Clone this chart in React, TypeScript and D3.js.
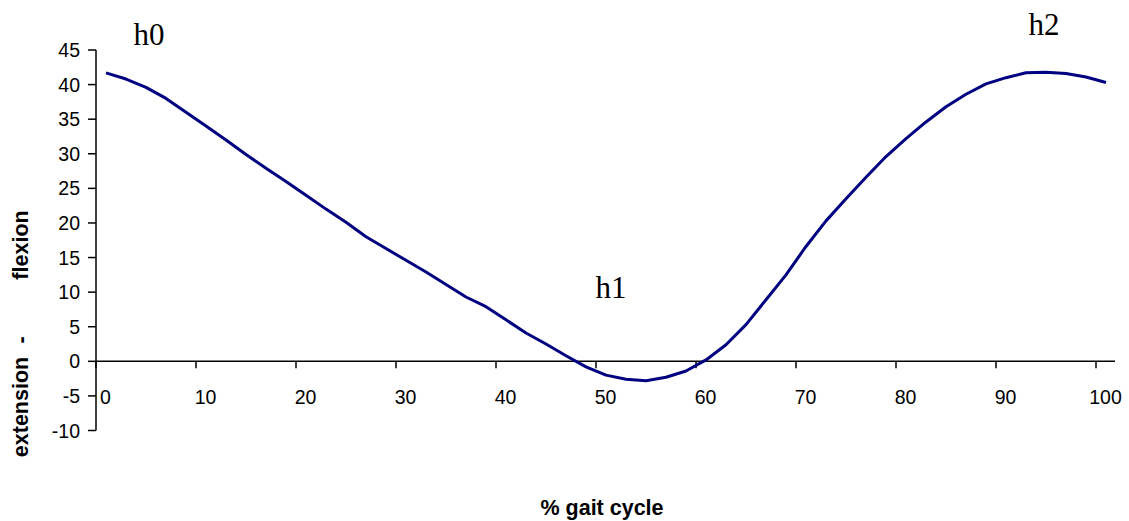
import React from "react";
import * as d3 from "d3";

const gaitPct = [1, 3, 5, 7, 9, 11, 13, 15, 17, 19, 21, 23, 25, 27, 29, 31, 33, 35, 37, 39, 41, 43, 45, 47, 49, 51, 53, 55, 57, 59, 61, 63, 65, 67, 69, 71, 73, 75, 77, 79, 81, 83, 85, 87, 89, 91, 93, 95, 97, 99, 101];
const hipAngle = [41.7, 40.8, 39.6, 38.0, 36.0, 34.0, 32.0, 29.9, 27.9, 26.0, 24.0, 22.0, 20.1, 18.0, 16.3, 14.6, 12.9, 11.1, 9.3, 7.9, 6.0, 4.1, 2.5, 0.8, -0.8, -2.0, -2.6, -2.8, -2.3, -1.4, 0.2, 2.4, 5.3, 8.9, 12.5, 16.6, 20.3, 23.5, 26.6, 29.6, 32.2, 34.6, 36.8, 38.6, 40.1, 41.0, 41.7, 41.8, 41.6, 41.1, 40.3];
const xTicks = [0, 10, 20, 30, 40, 50, 60, 70, 80, 90, 100];
const yTicks = [-10, -5, 0, 5, 10, 15, 20, 25, 30, 35, 40, 45];
const phaseLabels = ["h0", "h1", "h2"];
const phaseX = [5.3, 51.5, 94.8];
const phaseY = [45.7, 9.1, 47.2];

export default function App() {
  const W = 1129, H = 521;
  const x = d3.scaleLinear().domain([0, 100]).range([96, 1096]);
  const y = d3.scaleLinear().domain([-10, 45]).range([430.5, 50]);
  const line = d3.line<number>().x((_, i) => x(gaitPct[i])).y((d) => y(d));
  const sans = "Arial, 'Liberation Sans', sans-serif";
  const serif = "'Times New Roman', 'Liberation Serif', serif";
  return (
    <svg width={W} height={H} style={{ position: "absolute", left: 0, top: 0, background: "#fff" }}>
      {/* y axis */}
      <line x1={x(0)} x2={x(0)} y1={y(45)} y2={y(-10)} stroke="#000" strokeWidth={1.5} />
      {yTicks.map((t) => (
        <g key={"y" + t}>
          <line x1={x(0) - 8} x2={x(0)} y1={y(t)} y2={y(t)} stroke="#000" strokeWidth={1.5} />
          <text x={80} y={y(t)} dy="0.36em" textAnchor="end" fontFamily={sans} fontSize={19.5}>{t}</text>
        </g>
      ))}
      {/* x axis at zero */}
      <line x1={x(0)} x2={x(101.9)} y1={y(0)} y2={y(0)} stroke="#000" strokeWidth={1.5} />
      {xTicks.map((t) => (
        <g key={"x" + t}>
          <line x1={x(t)} x2={x(t)} y1={y(0)} y2={y(0) + 7} stroke="#000" strokeWidth={1.5} />
          <text x={x(t) + 9.5} y={404} textAnchor="middle" fontFamily={sans} fontSize={19.5}>{t}</text>
        </g>
      ))}
      {/* curve */}
      <path d={line(hipAngle) || ""} fill="none" stroke="#000080" strokeWidth={3} strokeLinejoin="round" />
      {/* phase labels */}
      {phaseLabels.map((l, i) => (
        <text key={l} x={x(phaseX[i])} y={y(phaseY[i])} textAnchor="middle" fontFamily={serif} fontSize={31}>{l}</text>
      ))}
      {/* axis titles */}
      <text x={602} y={515} textAnchor="middle" fontFamily={sans} fontSize={21.5} fontWeight="bold">% gait cycle</text>
      <g transform="translate(28,0) rotate(-90)">
        <text x={-407} y={0} textAnchor="middle" fontFamily={sans} fontSize={21.5} fontWeight="bold">extension</text>
        <text x={-340} y={0} textAnchor="middle" fontFamily={sans} fontSize={21.5} fontWeight="bold">-</text>
        <text x={-245} y={0} textAnchor="middle" fontFamily={sans} fontSize={21.5} fontWeight="bold">flexion</text>
      </g>
    </svg>
  );
}
